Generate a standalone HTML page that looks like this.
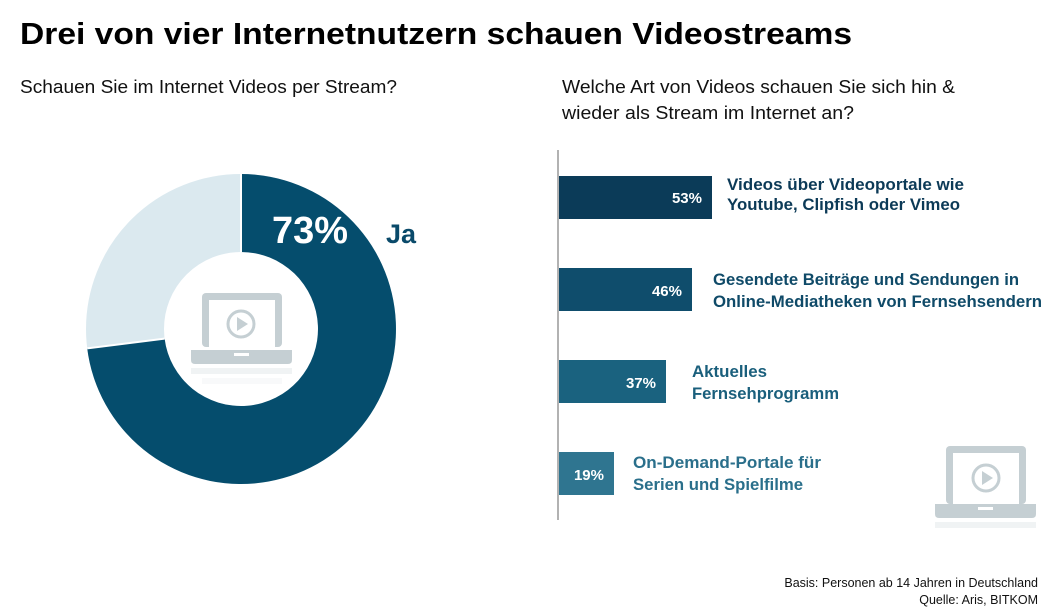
<!DOCTYPE html>
<html><head><meta charset="utf-8"><style>
html,body{margin:0;padding:0;background:#fff;}
svg{display:block;font-family:"Liberation Sans",sans-serif;}
</style></head><body>
<svg width="1050" height="612" viewBox="0 0 1050 612" xmlns="http://www.w3.org/2000/svg">
<rect width="1050" height="612" fill="#fff"/>
<text x="20" y="44" font-size="31" font-weight="bold" fill="#000" textLength="832" lengthAdjust="spacingAndGlyphs">Drei von vier Internetnutzern schauen Videostreams</text>
<text x="20" y="93" font-size="18" fill="#111" textLength="377" lengthAdjust="spacingAndGlyphs">Schauen Sie im Internet Videos per Stream?</text>
<text x="562" y="93" font-size="18" fill="#111" textLength="393" lengthAdjust="spacingAndGlyphs">Welche Art von Videos schauen Sie sich hin &amp;</text>
<text x="562" y="119" font-size="18" fill="#111" textLength="292" lengthAdjust="spacingAndGlyphs">wieder als Stream im Internet an?</text>

<!-- donut -->
<g transform="translate(241,329)">
<circle r="116" fill="none" stroke="#dbe9ef" stroke-width="78"/>
<path d="M0,-155 A155,155 0 1 1 -153.8,19.4 L-76.4,9.6 A77,77 0 1 0 0,-77 Z" fill="#054d6d"/>
<line x1="0" y1="-155" x2="0" y2="-77" stroke="#fff" stroke-width="2"/>
<line x1="-153.8" y1="19.4" x2="-76.4" y2="9.6" stroke="#fff" stroke-width="2"/>
</g>
<text x="272" y="243" font-size="38" font-weight="bold" fill="#fff" textLength="76" lengthAdjust="spacingAndGlyphs">73%</text>
<text x="386" y="243" font-size="27" font-weight="bold" fill="#0a4a6a">Ja</text>

<!-- laptop icon center -->
<g fill="#c5cfd3">
<rect x="202" y="293" width="80" height="54" rx="4"/>
<rect x="209" y="300" width="66" height="47" fill="#fff"/>
<circle cx="241" cy="324" r="13" fill="none" stroke="#c5cfd3" stroke-width="3"/>
<path d="M237,317 L248,324 L237,331 Z"/>
<path d="M191,350 H292 V360 Q292,364 288,364 H195 Q191,364 191,360 Z"/>
<rect x="234" y="353" width="15" height="3" fill="#fff"/>
<rect x="191" y="368" width="101" height="6" opacity="0.25"/>
<rect x="202" y="378" width="80" height="6" opacity="0.12"/>
</g>

<!-- bars -->
<line x1="558" y1="150" x2="558" y2="520" stroke="#999" stroke-width="1.5"/>
<rect x="559" y="176" width="153" height="43" fill="#0b3b58"/>
<rect x="559" y="268" width="133" height="43" fill="#0f4d6c"/>
<rect x="559" y="360" width="107" height="43" fill="#1a627f"/>
<rect x="559" y="452" width="55" height="43" fill="#2f7590"/>
<g font-size="15" font-weight="bold" fill="#fff" text-anchor="end">
<text x="702" y="203">53%</text>
<text x="682" y="296">46%</text>
<text x="656" y="388">37%</text>
<text x="604" y="480">19%</text>
</g>
<g font-size="17" font-weight="bold">
<text x="727" y="190" fill="#0c3a57" textLength="237" lengthAdjust="spacingAndGlyphs">Videos über Videoportale wie</text>
<text x="727" y="210" fill="#0c3a57" textLength="233" lengthAdjust="spacingAndGlyphs">Youtube, Clipfish oder Vimeo</text>
<text x="713" y="285" fill="#0f4a68" textLength="306" lengthAdjust="spacingAndGlyphs">Gesendete Beiträge und Sendungen in</text>
<text x="713" y="307" fill="#0f4a68" textLength="329" lengthAdjust="spacingAndGlyphs">Online-Mediatheken von Fernsehsendern</text>
<text x="692" y="377" fill="#1a5f7c" textLength="75" lengthAdjust="spacingAndGlyphs">Aktuelles</text>
<text x="692" y="399" fill="#1a5f7c" textLength="147" lengthAdjust="spacingAndGlyphs">Fernsehprogramm</text>
<text x="633" y="468" fill="#2a6f8b" textLength="188" lengthAdjust="spacingAndGlyphs">On-Demand-Portale für</text>
<text x="633" y="490" fill="#2a6f8b" textLength="170" lengthAdjust="spacingAndGlyphs">Serien und Spielfilme</text>
</g>

<!-- laptop icon right -->
<g fill="#c5cfd3">
<rect x="946" y="446" width="80" height="58" rx="4"/>
<rect x="953" y="453" width="66" height="51" fill="#fff"/>
<circle cx="986" cy="478" r="13" fill="none" stroke="#c5cfd3" stroke-width="3"/>
<path d="M982,471 L993,478 L982,485 Z"/>
<path d="M935,504 H1036 V514 Q1036,518 1032,518 H939 Q935,518 935,514 Z"/>
<rect x="978" y="507" width="15" height="3" fill="#fff"/>
<rect x="935" y="522" width="101" height="6" opacity="0.25"/>
</g>

<g font-size="12.5" fill="#111" text-anchor="end">
<text x="1038" y="587">Basis: Personen ab 14 Jahren in Deutschland</text>
<text x="1038" y="604">Quelle: Aris, BITKOM</text>
</g>
</svg>
</body></html>
